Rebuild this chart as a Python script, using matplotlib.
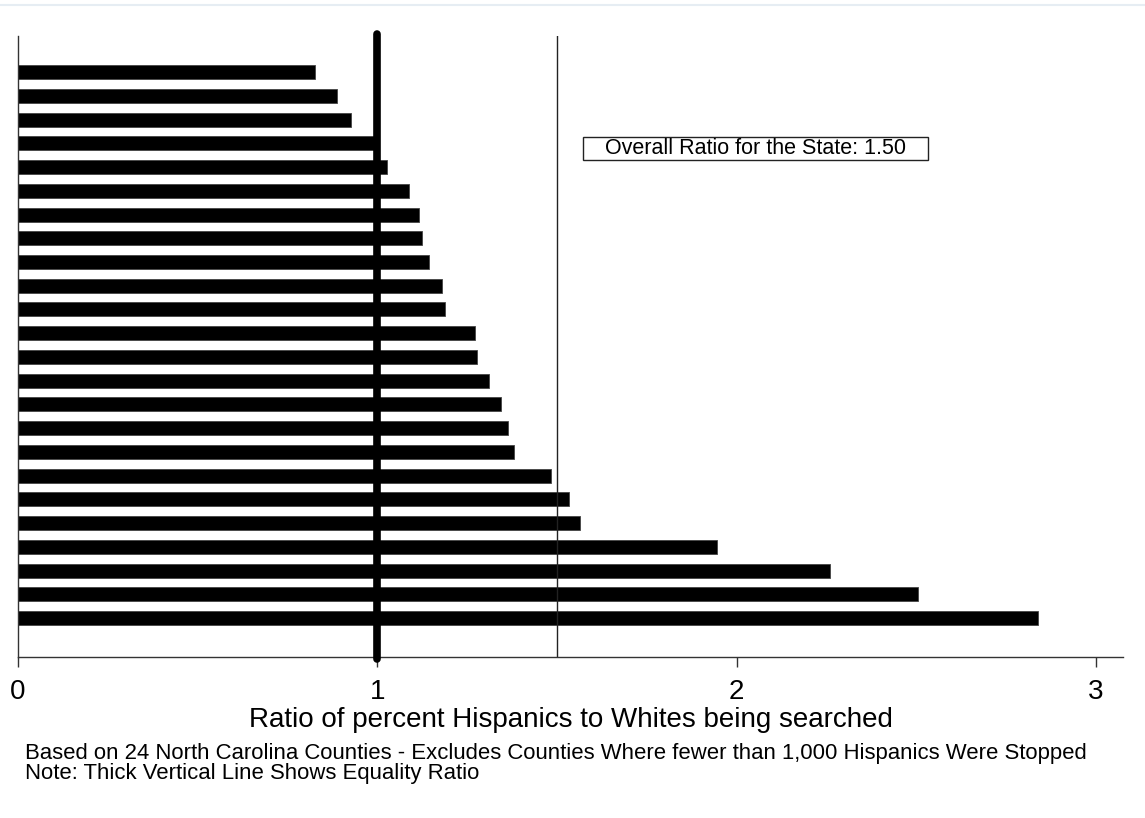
import numpy as np
import matplotlib
matplotlib.use("Agg")
import matplotlib.pyplot as plt
from matplotlib.patches import Rectangle

plt.rcParams['font.family'] = ['Liberation Sans', 'DejaVu Sans']

# ratio for each county, sorted (top bar first)
ratios = [0.827, 0.888, 0.927, 0.991, 1.027, 1.088, 1.116, 1.124,
          1.144, 1.180, 1.188, 1.271, 1.277, 1.310, 1.344, 1.364,
          1.380, 1.483, 1.534, 1.564, 1.945, 2.260, 2.505, 2.839]
state_ratio = 1.50
equality = 1.0
x_ticks = [0, 1, 2, 3]

fig = plt.figure(figsize=(11.45, 8.18), dpi=100)
ax = fig.add_axes([18 / 1145, 161 / 818, 1105 / 1145, 621 / 818])

pos = np.arange(len(ratios))
ax.barh(pos, ratios, height=0.59, color="black", edgecolor="#444444", linewidth=0.6)

ax.axvline(state_ratio, color="#222222", linewidth=1.0)
ax.plot([equality, equality], [len(ratios) + 0.72, -1.62], color="black",
        linewidth=5.5, solid_capstyle="round", clip_on=False, zorder=5)

ax.set_xlim(0, 3.075)
ax.set_ylim(len(ratios) - 1 + 1.64, -1.52)
ax.set_yticks([])
ax.set_xticks(x_ticks)
ax.set_xticklabels([str(t) for t in x_ticks], fontsize=20)
ax.tick_params(axis="x", direction="out", length=7, width=1, color="#333333", pad=9)
for s in ["top", "right"]:
    ax.spines[s].set_visible(False)
for s in ["left", "bottom"]:
    ax.spines[s].set_color("#333333")
    ax.spines[s].set_linewidth(1.0)

ax.set_xlabel("Ratio of percent Hispanics to Whites being searched", fontsize=20, labelpad=1)

# annotation box for the statewide ratio
ax.add_patch(Rectangle((1.5725, 2.734), 0.960, 0.97, facecolor="white",
                       edgecolor="#222222", linewidth=1.0, zorder=6))
ax.text(2.053, 3.22, "Overall Ratio for the State: 1.50", fontsize=15.5,
        ha="center", va="center", zorder=7)

fig.text(25 / 1145, 1 - 753 / 818,
         "Based on 24 North Carolina Counties - Excludes Counties Where fewer than 1,000 Hispanics Were Stopped",
         fontsize=15.9, va="center", ha="left")
fig.text(25 / 1145, 1 - 774 / 818, "Note: Thick Vertical Line Shows Equality Ratio",
         fontsize=15.9, va="center", ha="left")

# faint page edge at the top
fig.add_artist(plt.Line2D([0, 1], [1 - 5 / 818, 1 - 5 / 818], color="#e6edf3", linewidth=1.5))

fig.savefig("out.png", dpi=100)
